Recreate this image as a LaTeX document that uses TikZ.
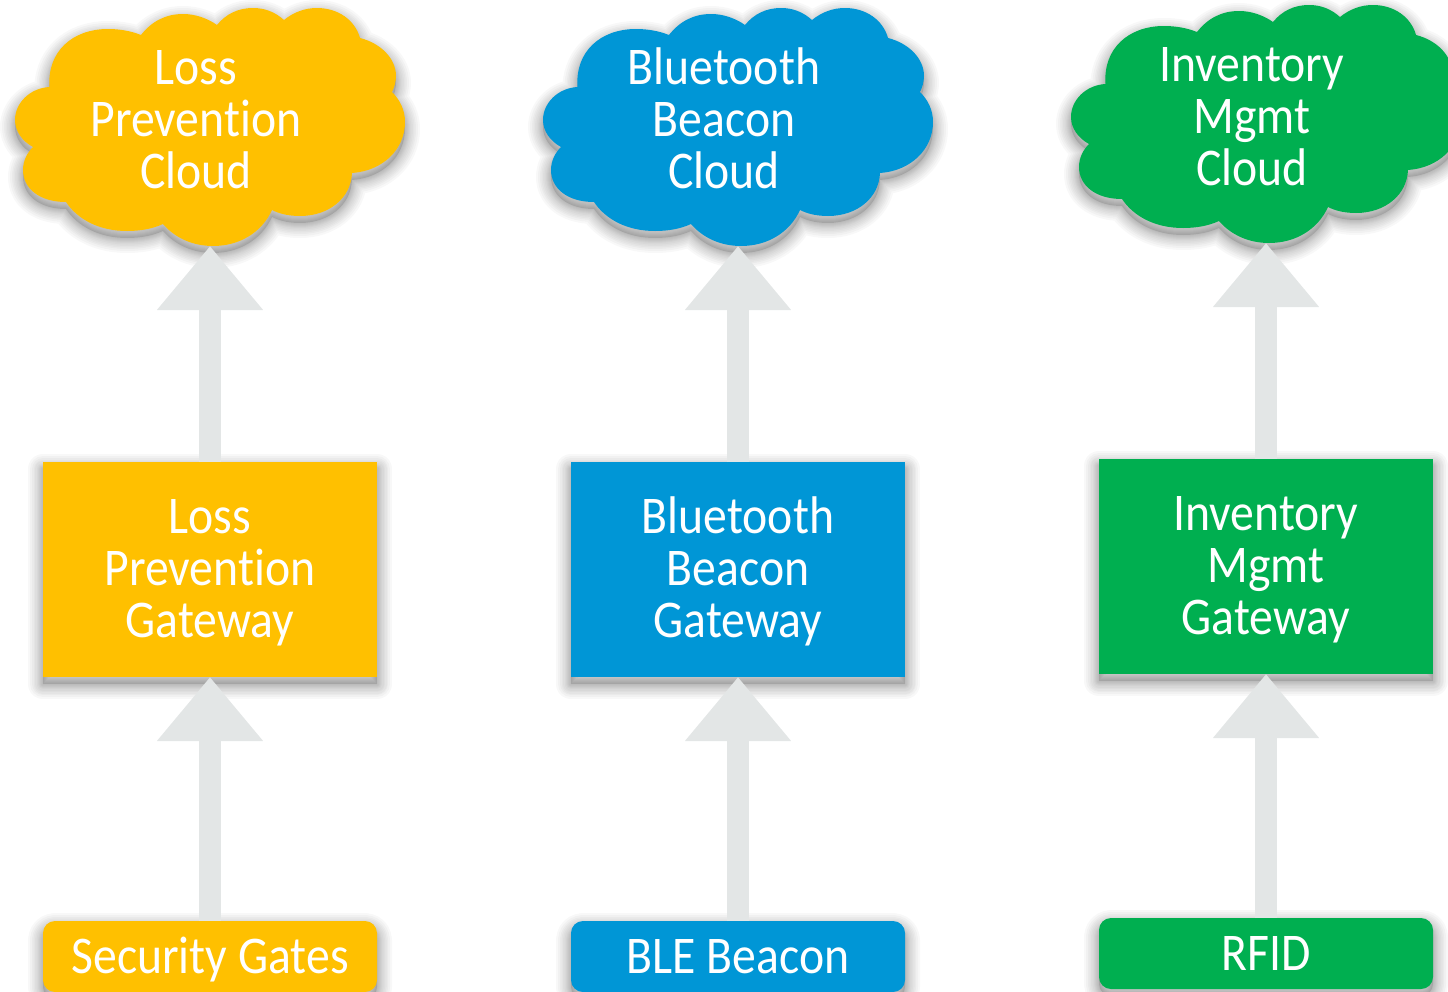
\documentclass[tikz,border=0pt]{standalone}
\usepackage{fontspec}
\setmainfont[Ligatures=NoCommon]{Carlito}
\usetikzlibrary{arrows.meta}
\definecolor{cyellow}{HTML}{FFC000}
\definecolor{cblue}{HTML}{0096D6}
\definecolor{cgreen}{HTML}{00AF50}
\definecolor{carrow}{HTML}{E3E6E6}
\tikzset{
  x=1pt,y=-1pt,
  sh/.style={preaction={draw=black,draw opacity=.028,line width=#1,line join=round,transform canvas={yshift=-7pt}}},
  shfill/.style={preaction={fill=black,fill opacity=.12,transform canvas={yshift=-7pt}}},
  soft/.style={shfill,sh=30pt,sh=26pt,sh=22pt,sh=19pt,sh=16pt,sh=13pt,sh=10pt,sh=8pt,sh=6pt,sh=4pt,sh=2pt},
  lbl/.style={text=white,align=center,font=\fontsize{53}{52}\selectfont,inner sep=0pt,outer sep=0pt,xscale=.9,transform shape},
  gate/.style={soft,fill=#1,minimum width=334pt,minimum height=215pt,inner sep=0pt,outer sep=0pt},
  device/.style={soft,fill=#1,rounded corners=12pt,minimum width=334pt,minimum height=71pt,inner sep=0pt,outer sep=0pt},
  tip/.style={minimum width=390pt,minimum height=238pt,inner sep=0pt,outer sep=0pt},
  flow/.style={draw=carrow,line width=22pt,-{Triangle[length=64pt,width=102pt]}},
}
\def\cloudpath{(49.5,87) .. controls (47,52) and (72,29) .. (108,29) .. controls (120,29) and (131,31) .. (141,35)
 .. controls (152,21) and (166,14) .. (183,14) .. controls (195,14) and (207,18) .. (217,25)
 .. controls (226,14) and (238,8) .. (253,8) .. controls (265,8) and (275,12) .. (284,20)
 .. controls (294,12) and (305,8) .. (317,8) .. controls (338,8) and (355,20) .. (360,38)
 .. controls (380,43) and (396,58) .. (396,76) .. controls (396,82) and (394,88) .. (392,92)
 .. controls (400,100) and (405,110) .. (405,122) .. controls (405,150) and (382,171) .. (352,173)
 .. controls (351,198) and (329,216) .. (300,216) .. controls (289,216) and (280,214) .. (272,210)
 .. controls (262,232) and (240,246) .. (213,246) .. controls (193,246) and (175,238) .. (163,224)
 .. controls (152,229) and (140,231) .. (127,231) .. controls (100,231) and (78,220) .. (66,202)
 .. controls (39,202) and (23,188) .. (23,170) .. controls (23,161) and (27,153) .. (33,147)
 .. controls (22,141) and (15,131) .. (15,120) .. controls (15,103) and (30,88) .. (49.5,87) -- cycle}
\begin{document}
\begin{tikzpicture}
\useasboundingbox (0,0) rectangle (1448,991);
\clip (0,0) rectangle (1448,991);
% clouds
\begin{scope}
  \path[soft,fill=cyellow] \cloudpath;
\end{scope}
\begin{scope}[shift={(528,0)}]
  \path[soft,fill=cblue] \cloudpath;
\end{scope}
\begin{scope}[shift={(1056,-3)}]
  \path[soft,fill=cgreen] \cloudpath;
\end{scope}
\node[tip] (cloudA) at (210,127) {};
\node[tip] (cloudB) at (738,127) {};
\node[tip] (cloudC) at (1266,124) {};
\node[lbl] (cloudAtext) at (196,120) {Loss\\Prevention\\Cloud};
\node[lbl] (cloudBtext) at (724,118.5) {Bluetooth\\Beacon\\Cloud};
\node[lbl] (cloudCtext) at (1252,117) {Inventory\\Mgmt\\Cloud};
% gateways
\node[gate=cyellow] (gateA) at (210,569.5) {};
\node[gate=cblue] (gateB) at (738,569.5) {};
\node[gate=cgreen] (gateC) at (1266,566.5) {};
\node[lbl] (gateAtext) at (210,573) {Loss\\Prevention\\Gateway};
\node[lbl] (gateBtext) at (738,571) {Bluetooth\\Beacon\\Gateway};
\node[lbl] (gateCtext) at (1266,570) {Inventory\\Mgmt\\Gateway};
% devices
\node[device=cyellow] (devA) at (210,956.5) {};
\node[device=cblue] (devB) at (738,956.5) {};
\node[device=cgreen] (devC) at (1266,953.5) {};
\node[lbl] (devAtext) at (210,960) {Security Gates};
\node[lbl] (devBtext) at (738,957) {BLE Beacon};
\node[lbl] (devCtext) at (1266,953) {RFID};
% arrows
\draw[flow] (gateA.north) -- (cloudA.south);
\draw[flow] (gateB.north) -- (cloudB.south);
\draw[flow] (gateC.north) -- (cloudC.south);
\draw[flow] (devA.north) -- (gateA.south);
\draw[flow] (devB.north) -- (gateB.south);
\draw[flow] (devC.north) -- (gateC.south);
\end{tikzpicture}
\end{document}
